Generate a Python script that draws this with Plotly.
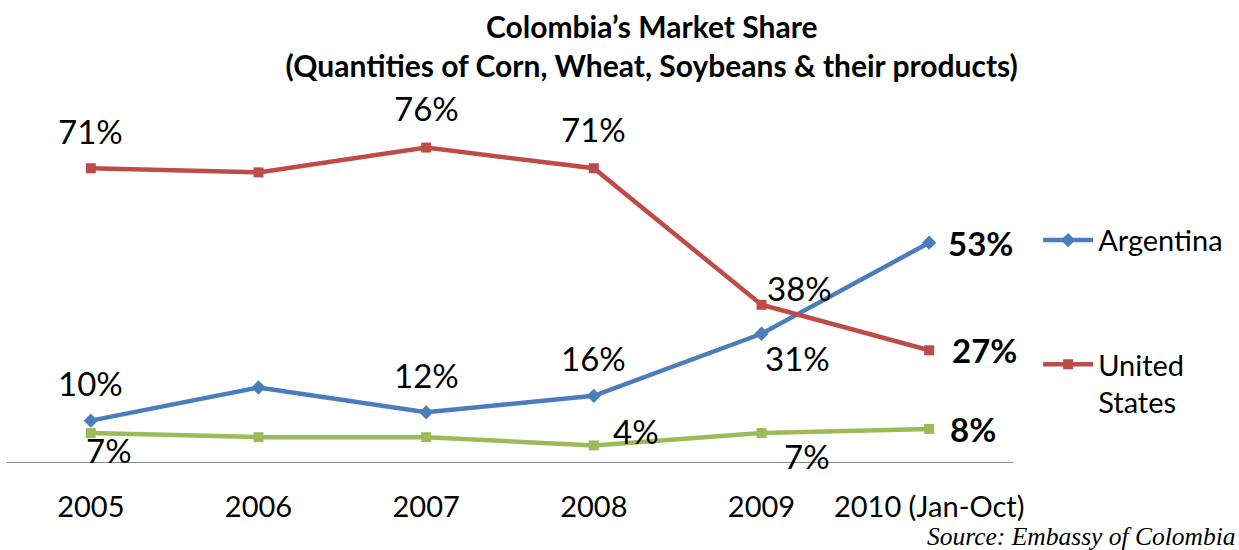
import plotly.graph_objects as go

# Market share of Colombia's imports (corn, wheat, soybeans & products), in percent
years = ["2005", "2006", "2007", "2008", "2009", "2010 (Jan-Oct)"]
argentina = [10, 18, 12, 16, 31, 53]
united_states = [71, 70, 76, 71, 38, 27]
canada = [7, 6, 6, 4, 7, 8]

# which points carry a value label
argentina_labeled = [True, False, True, True, True, True]
us_labeled = [True, False, True, True, True, True]
canada_labeled = [True, False, False, True, True, True]

BLUE = "#4A7EBB"
RED = "#BE4B48"
GREEN = "#9BBB59"
FONT = "Lato, 'Open Sans', sans-serif"

fig = go.Figure()

fig.add_trace(go.Scatter(
    x=years, y=argentina, name="Argentina", mode="lines+markers",
    line=dict(color=BLUE, width=4.5),
    marker=dict(symbol="diamond", size=11, color=BLUE),
    legend="legend",
))
fig.add_trace(go.Scatter(
    x=years, y=united_states, name="United<br>States", mode="lines+markers",
    line=dict(color=RED, width=4.5),
    marker=dict(symbol="square", size=10, color=RED),
    legend="legend2",
))
fig.add_trace(go.Scatter(
    x=years, y=canada, name="Canada", mode="lines+markers",
    line=dict(color=GREEN, width=4.5),
    marker=dict(symbol="square", size=10, color=GREEN),
    showlegend=False,
))

# label placement per point: (xshift, yshift, xanchor, bold)
arg_place = [(0, 38, "center", False), None, (0, 37, "center", False),
             (0, 38, "center", False), (36, -24, "center", False),
             (17, 0, "left", True)]
us_place = [(0, 37, "center", False), None, (0, 40, "center", False),
            (0, 39, "center", False), (38, 17, "center", False),
            (21, 0, "left", True)]
ca_place = [(18, -17, "center", False), None, None,
            (42, 14, "center", False), (45, -23, "center", False),
            (19, 0, "left", True)]


def add_labels(values, labeled, places):
    # category index is used as x so numeric-looking names are not misread
    for i, (v, on, p) in enumerate(zip(values, labeled, places)):
        if not on or p is None:
            continue
        dx, dy, anchor, bold = p
        txt = f"<b>{v}%</b>" if bold else f"{v}%"
        fig.add_annotation(
            x=i, y=v, text=txt, showarrow=False,
            xshift=dx, yshift=dy, xanchor=anchor, yanchor="middle",
            font=dict(family=FONT, size=33, color="#000000"),
        )


add_labels(argentina, argentina_labeled, arg_place)
add_labels(united_states, us_labeled, us_place)
add_labels(canada, canada_labeled, ca_place)

fig.add_annotation(
    text="<i>Source: Embassy of Colombia</i>", xref="paper", yref="paper",
    x=1.0, y=0, xshift=225, yshift=-74, xanchor="right", yanchor="middle",
    showarrow=False,
    font=dict(family="'Liberation Serif', serif", size=25.5, color="#000000"),
)

fig.update_layout(
    width=1239, height=550,
    margin=dict(l=7, r=226, t=131, b=88),
    paper_bgcolor="white", plot_bgcolor="white",
    title=dict(
        text="<b>Colombia’s Market Share<br>(Quantities of Corn, Wheat, Soybeans & their products)</b>",
        x=0.526, xanchor="center", y=0.931, yanchor="middle",
        font=dict(family=FONT, size=30, color="#000000"),
    ),
    xaxis=dict(
        type="category",
        showline=True, linecolor="#898989", linewidth=1.2,
        showgrid=False, ticks="", ticklabelstandoff=19,
        tickfont=dict(family=FONT, size=29, color="#000000"),
        range=[-0.5, 5.5], fixedrange=True,
    ),
    yaxis=dict(range=[0, 80], visible=False, showgrid=False, zeroline=False),
    legend=dict(
        x=1.025, y=0.67, xanchor="left", yanchor="middle",
        font=dict(family=FONT, size=29, color="#000000"),
        bgcolor="rgba(0,0,0,0)", itemwidth=50,
    ),
    legend2=dict(
        x=1.025, y=0.372, xanchor="left", yanchor="top", valign="top",
        font=dict(family=FONT, size=29, color="#000000"),
        bgcolor="rgba(0,0,0,0)", itemwidth=50,
    ),
    showlegend=True,
)

fig.write_html("out.html")
